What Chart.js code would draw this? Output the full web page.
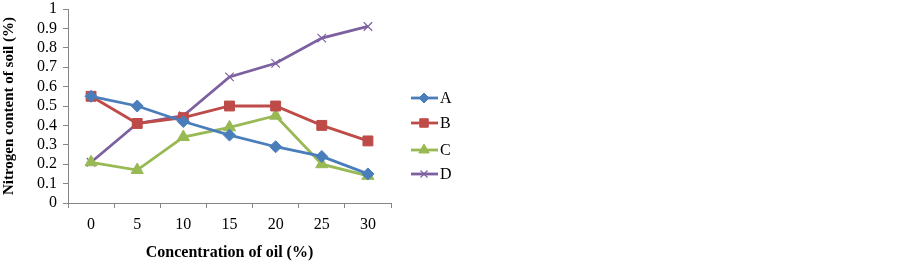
<!DOCTYPE html>
<html>
<head>
<meta charset="utf-8">
<script src="https://cdn.jsdelivr.net/npm/chart.js@4"></script>
<style>
  html, body { margin: 0; padding: 0; background: #fff; }
  #wrap { width: 903px; height: 266px; }
</style>
</head>
<body>
<div id="wrap"><canvas id="chart" width="903" height="266"></canvas></div>
<script>
// Chart data
const categories = ['0', '5', '10', '15', '20', '25', '30'];
const seriesA = [0.55, 0.50, 0.42, 0.35, 0.29, 0.24, 0.15];
const seriesB = [0.55, 0.41, 0.44, 0.50, 0.50, 0.40, 0.32];
const seriesC = [0.21, 0.17, 0.34, 0.39, 0.45, 0.20, 0.14];
const seriesD = [0.21, 0.41, 0.45, 0.65, 0.72, 0.85, 0.91];
const yTicks = [0, 0.1, 0.2, 0.3, 0.4, 0.5, 0.6, 0.7, 0.8, 0.9, 1];

const serif = "'Liberation Serif', 'Times New Roman', serif";

function makeSet(label, data, color, style, radius) {
    return {
        label: label,
        data: data,
        borderColor: color,
        backgroundColor: color,
        borderWidth: 2.8,
        pointStyle: style,
        pointRadius: radius,
        pointBorderColor: color,
        pointBackgroundColor: color,
        pointBorderWidth: style === 'crossRot' ? 1.2 : 1,
        tension: 0
    };
}

// Legend drawn with line + marker, like the original
const sideLegend = {
    id: 'sideLegend',
    afterDraw(chart) {
        const c = chart.ctx;
        const rows = [98, 123, 150, 174];
        chart.data.datasets.forEach((ds, i) => {
            const y = rows[i];
            c.save();
            c.strokeStyle = ds.borderColor;
            c.lineWidth = 2.8;
            c.beginPath();
            c.moveTo(411, y);
            c.lineTo(438, y);
            c.stroke();
            c.fillStyle = ds.backgroundColor;
            c.lineWidth = ds.pointBorderWidth;
            Chart.helpers.drawPoint(c, {
                pointStyle: ds.pointStyle,
                radius: ds.pointRadius - 1,
                rotation: 0,
                borderWidth: ds.pointBorderWidth
            }, 424, y);
            c.fillStyle = '#000';
            c.font = '16px ' + serif;
            c.textBaseline = 'middle';
            c.fillText(ds.label, 440, y + 1);
            c.restore();
        });
    }
};

const ctx = document.getElementById('chart').getContext('2d');
const chart = new Chart(ctx, {
    type: 'line',
    data: {
        labels: categories,
        datasets: [
            makeSet('A', seriesA, '#4A7EBB', 'rectRot', 6),
            makeSet('B', seriesB, '#BE4B48', 'rect', 7),
            makeSet('C', seriesC, '#98B954', 'triangle', 7),
            makeSet('D', seriesD, '#7D60A0', 'crossRot', 6)
        ]
    },
    options: {
        responsive: false,
        animation: false,
        layout: { padding: { top: 9, right: 512, left: 0, bottom: 0 } },
        plugins: {
            legend: { display: false },
            tooltip: { enabled: false }
        },
        scales: {
            x: {
                offset: true,
                grid: {
                    offset: true,
                    drawOnChartArea: false,
                    drawTicks: true,
                    tickLength: 5,
                    color: '#868686'
                },
                border: { color: '#868686', width: 1 },
                ticks: {
                    color: '#000',
                    font: { family: serif, size: 16 },
                    padding: 7,
                    maxRotation: 0
                },
                title: {
                    display: true,
                    text: 'Concentration of oil (%)',
                    color: '#000',
                    font: { family: serif, size: 16, weight: 'bold' },
                    padding: { top: 4, bottom: 4 }
                },
                afterFit(scale) { scale.height = 63; }
            },
            y: {
                min: 0,
                max: 1,
                afterBuildTicks(scale) {
                    scale.ticks = yTicks.map(v => ({ value: v }));
                },
                grid: {
                    drawOnChartArea: false,
                    drawTicks: true,
                    tickLength: 5,
                    color: '#868686'
                },
                border: { color: '#868686', width: 1 },
                ticks: {
                    color: '#000',
                    autoSkip: false,
                    font: { family: serif, size: 16 },
                    padding: 6,
                    callback: v => String(Math.round(v * 10) / 10)
                },
                title: {
                    display: true,
                    text: 'Nitrogen content of soil (%)',
                    color: '#000',
                    font: { family: serif, size: 15, weight: 'bold' },
                    padding: { top: 0, bottom: 2 }
                },
                afterFit(scale) {
                    scale.width = 68;
                    scale.paddingTop = 0;
                    scale.paddingBottom = 0;
                }
            }
        }
    },
    plugins: [sideLegend]
});
</script>
</body>
</html>
